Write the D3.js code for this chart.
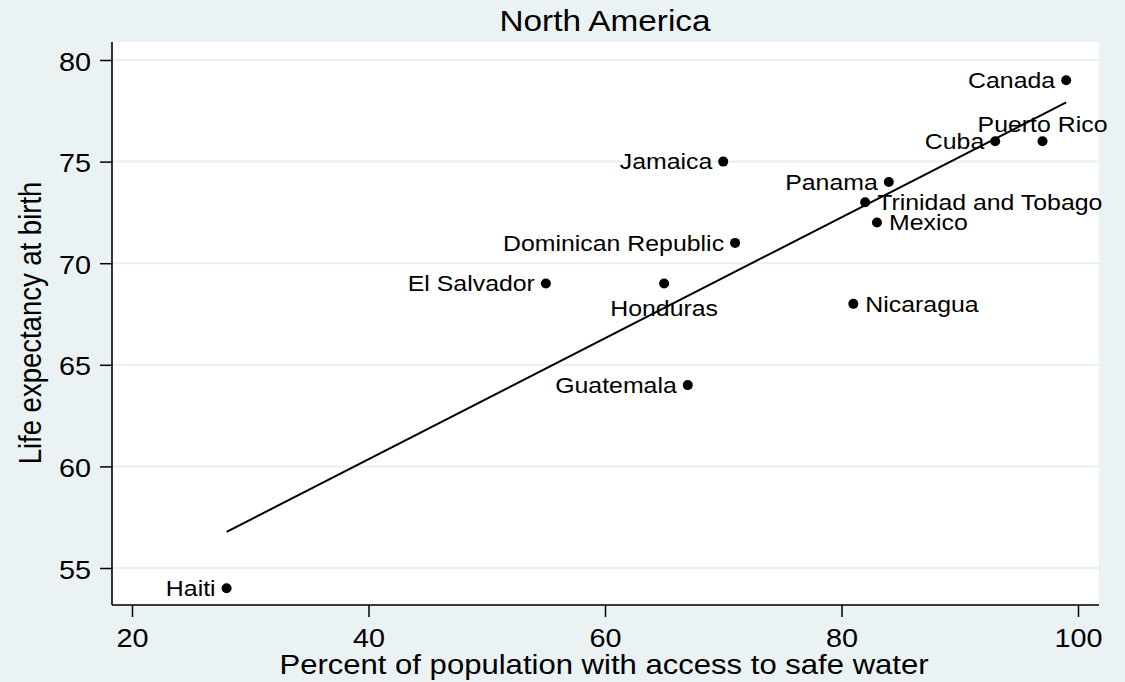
<!DOCTYPE html>
<html>
<head>
<meta charset="utf-8">
<script src="https://cdn.jsdelivr.net/npm/d3@7"></script>
<style>
  html, body { margin: 0; padding: 0; background: #eaf2f3; }
  svg { display: block; }
  text { font-family: "Liberation Sans", Arial, Helvetica, sans-serif; fill: #000; }
</style>
</head>
<body>
<svg id="chart" width="1125" height="682"></svg>
<script>
// ---- Data ----
const countries = ["Haiti", "Canada", "Puerto Rico", "Cuba", "Jamaica", "Panama",
  "Trinidad and Tobago", "Mexico", "Dominican Republic", "El Salvador",
  "Honduras", "Nicaragua", "Guatemala"];
const water = [28, 99, 97, 93, 70, 84, 82, 83, 71, 55, 65, 81, 67];
const lifeExp = [54, 79, 76, 76, 75, 74, 73, 72, 71, 69, 69, 68, 64];
const xTicks = [20, 40, 60, 80, 100];
const yTicks = [55, 60, 65, 70, 75, 80];
const titleText = "North America";
const xTitle = "Percent of population with access to safe water";
const yTitle = "Life expectancy at birth";

// marker label clock positions (style)
const labelClock = {
  "Puerto Rico": 12, "Honduras": 6, "Trinidad and Tobago": 3,
  "Mexico": 3, "Nicaragua": 3
}; // default 9

// ---- Layout ----
const S = 1.13; // horizontal text stretch
const plot = { left: 112, right: 1099, top: 42, bottom: 605 };
const svg = d3.select("#chart");

const x = d3.scaleLinear().domain([20, 100]).range([132, 1078]);
const y = d3.scaleLinear().domain([55, 80]).range([568, 60]);

svg.append("rect").attr("width", 1125).attr("height", 682).attr("fill", "#eaf2f3");
svg.append("rect")
  .attr("x", plot.left).attr("y", plot.top)
  .attr("width", plot.right - plot.left).attr("height", plot.bottom - plot.top)
  .attr("fill", "#ffffff");

// gridlines
svg.append("g").selectAll("line").data(yTicks).join("line")
  .attr("x1", plot.left).attr("x2", plot.right)
  .attr("y1", d => y(d)).attr("y2", d => y(d))
  .attr("stroke", "#e8f0f2").attr("stroke-width", 2);

function stretch(sel, tx, ty) {
  sel.attr("x", 0).attr("y", 0)
    .attr("transform", `translate(${tx},${ty}) scale(${S},1)`);
}

// x axis
const gx = svg.append("g").attr("transform", `translate(0,${plot.bottom})`)
  .call(d3.axisBottom(x).tickValues(xTicks).tickSize(12).tickSizeOuter(0).tickFormat(d3.format("d")));
gx.select(".domain").attr("d", `M${plot.left},0H${plot.right}`).attr("stroke", "#000").attr("stroke-width", 1.6);
gx.selectAll(".tick line").attr("stroke", "#000").attr("stroke-width", 1.5);
gx.selectAll(".tick text").attr("font-size", 25.5).attr("text-anchor", "middle")
  .attr("dy", null).attr("fill", "#000")
  .each(function () { stretch(d3.select(this), 0, 42); });

// y axis
const gy = svg.append("g").attr("transform", `translate(${plot.left},0)`)
  .call(d3.axisLeft(y).tickValues(yTicks).tickSize(12).tickSizeOuter(0).tickFormat(d3.format("d")));
gy.select(".domain").attr("d", `M0,${plot.top}V${plot.bottom}`).attr("stroke", "#000").attr("stroke-width", 1.6);
gy.selectAll(".tick line").attr("stroke", "#000").attr("stroke-width", 1.5);
gy.selectAll(".tick text").attr("font-size", 25.5).attr("text-anchor", "end")
  .attr("dy", null).attr("fill", "#000")
  .each(function () { stretch(d3.select(this), -21, 10); });

gx.attr("font-family", null); gy.attr("font-family", null);

// fit line (OLS from data)
const n = water.length;
const mx = d3.mean(water), my = d3.mean(lifeExp);
let sxy = 0, sxx = 0;
for (let i = 0; i < n; i++) { sxy += (water[i] - mx) * (lifeExp[i] - my); sxx += (water[i] - mx) ** 2; }
const b = sxy / sxx, a = my - b * mx;
const xmin = d3.min(water), xmax = d3.max(water);
svg.append("line")
  .attr("x1", x(xmin)).attr("y1", y(a + b * xmin))
  .attr("x2", x(xmax)).attr("y2", y(a + b * xmax))
  .attr("stroke", "#000").attr("stroke-width", 2);

// points
const pts = countries.map((c, i) => ({ name: c, wx: water[i], le: lifeExp[i] }));
svg.append("g").selectAll("circle").data(pts).join("circle")
  .attr("cx", d => x(d.wx)).attr("cy", d => y(d.le)).attr("r", 5).attr("fill", "#000");

// labels
const lg = svg.append("g");
pts.forEach(d => {
  const cx = x(d.wx), cy = y(d.le);
  const pos = labelClock[d.name] || 9;
  const t = lg.append("text").attr("font-size", 22).text(d.name);
  if (pos === 9) { t.attr("text-anchor", "end"); stretch(t, cx - 11, cy + 7.8); }
  else if (pos === 3) { t.attr("text-anchor", "start"); stretch(t, cx + 12, cy + 7.8); }
  else if (pos === 12) { t.attr("text-anchor", "middle"); stretch(t, cx, cy - 9); }
  else if (pos === 6) { t.attr("text-anchor", "middle"); stretch(t, cx, cy + 32); }
});

// titles
const tt = svg.append("text").attr("font-size", 29.5).attr("text-anchor", "middle").text(titleText);
stretch(tt, 605, 31);
const xt = svg.append("text").attr("font-size", 27.5).attr("text-anchor", "middle").text(xTitle);
stretch(xt, 604, 674);
svg.append("text").attr("font-size", 27.5).attr("text-anchor", "middle")
  .attr("transform", `translate(41,323) scale(${S},1) rotate(-90)`).text(yTitle);
</script>
</body>
</html>
